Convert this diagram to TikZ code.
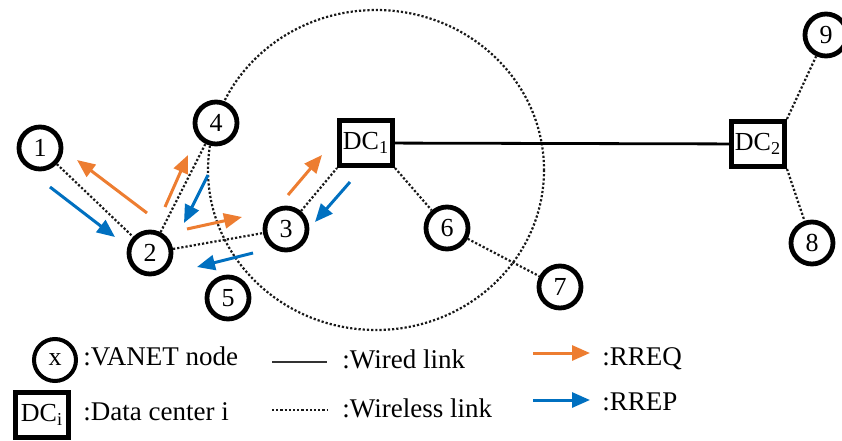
\documentclass[tikz,border=0pt]{standalone}
\usepackage{fontspec}
\setmainfont{Liberation Serif}
\usetikzlibrary{arrows.meta}
\definecolor{reqorange}{RGB}{237,125,49}
\definecolor{repblue}{RGB}{0,112,192}

\begin{document}
\begin{tikzpicture}[x=0.5pt, y=-0.5pt,
	vnode/.style={circle, draw, line width=2.4pt, minimum size=21pt, inner sep=0pt, fill=white, font=\fontsize{13}{15}\selectfont},
	dcnode/.style={rectangle, draw, line width=2.5pt, minimum width=26.5pt, minimum height=22.5pt, inner sep=0pt, fill=white, font=\fontsize{13}{15}\selectfont},
	wired/.style={line width=1.4pt},
	wireless/.style={densely dotted, line width=1.1pt, black!90},
	rreq/.style={-{Triangle[length=9pt, width=7.5pt]}, line width=1.5pt, reqorange},
	rrep/.style={-{Triangle[length=9pt, width=7.5pt]}, line width=1.5pt, repblue},
	legtext/.style={anchor=base west, inner sep=0pt, font=\fontsize{13.5}{16}\selectfont}]
	\useasboundingbox (0,0) rectangle (842,440);

	% range of DC1
	\draw [wireless] (376,170) ellipse [x radius=168, y radius=160];

	\node [vnode] (n1) at (40,148) {1};
	\node [vnode] (n2) at (150,253) {2};
	\node [vnode] (n3) at (286,229) {3};
	\node [vnode] (n4) at (216,123) {4};
	\node [vnode] (n5) at (228,298) {5};
	\node [vnode] (n6) at (447,228) {6};
	\node [vnode] (n7) at (560,287) {7};
	\node [vnode] (n8) at (812,243) {8};
	\node [vnode] (n9) at (826,35) {9};
	\node [dcnode] (dc1) at (366,143) {DC\textsubscript{1}};
	\node [dcnode] (dc2) at (758,144) {DC\textsubscript{2}};

	\draw [wired] (dc1) -- (dc2);
	\draw [wireless] (n1) -- (n2) (n2) -- (n4) (n2) -- (n3);
	\draw [wireless] (n3) -- (dc1.south west) (dc1.south east) -- (n6) (n6) -- (n7);
	\draw [wireless] (dc2.north east) -- (n9) (dc2.south east) -- (n8);

	\foreach \a/\b in {{(147,213)}/{(77,160)}, {(165,207)}/{(188,155)}, {(187,229)}/{(242,217)}, {(288,195)}/{(322,155)}}
		\draw [rreq] \a -- \b;
	\foreach \a/\b in {{(50,187)}/{(115,237)}, {(208,175)}/{(184,223)}, {(253,253)}/{(197,267)}, {(350,182)}/{(315,222)}}
		\draw [rrep] \a -- \b;

	% legend
	\node [vnode, line width=2pt] (lx) at (55,360) {x};
	\node [legtext] (lxt) at (83,365) {:VANET node};
	\node [dcnode] (ldc) at (42,415) {DC\textsubscript{i}};
	\node [legtext] (ldct) at (83,420) {:Data center i};
	\draw [wired, black!80] (272,362) -- (327,362);
	\node [legtext] (lwd) at (342,368) {:Wired link};
	\draw [wireless] (272,410) -- (327,410);
	\node [legtext] (lwl) at (342,417) {:Wireless link};
	\draw [rreq] (533,353) -- (590,353);
	\node [legtext] (lreq) at (602,365) {:RREQ};
	\draw [rrep] (533,400) -- (590,400);
	\node [legtext] (lrep) at (602,410) {:RREP};
\end{tikzpicture}
\end{document}
